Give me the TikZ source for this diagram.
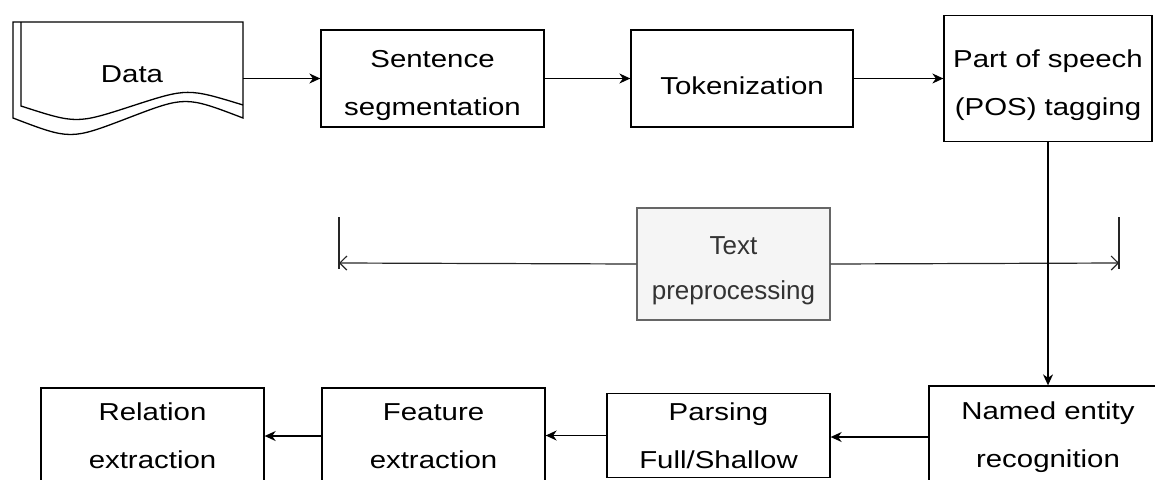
\documentclass[tikz,border=0pt]{standalone}
\usepackage{fontspec}
\setmainfont[FakeStretch=1.2]{Liberation Sans}
\newfontfamily\notefont{Liberation Sans}
\usepackage{xcolor}
\usepackage{tikz}
\usetikzlibrary{arrows.meta}

\definecolor{notefill}{HTML}{F5F5F5}
\definecolor{noteline}{HTML}{666666}
\definecolor{notetext}{HTML}{333333}

\newcommand{\lowstrut}{\rule{0pt}{32pt}} % pushes box text a little down

\begin{document}
\begin{tikzpicture}[
                x=1pt, y=-1pt,
                stage/.style={rectangle, draw, line width=1.3pt, fill=white, align=center, inner sep=0pt, font=\fontsize{24.5}{48}\selectfont}, % Process box
                note/.style={rectangle, draw=noteline, line width=1.3pt, fill=notefill, text=notetext, align=center, inner sep=0pt, font=\notefont\fontsize{26}{45}\selectfont}, % Grey label box
                flow/.style={-{Stealth[length=11pt, width=10pt, inset=3.5pt]}, line width=1.3pt}, % Arrow between boxes
                span/.style={-{Straight Barb[length=7pt, width=14pt]}, line width=1.2pt, draw=black!85} % Open arrow of the bracket
                ]
                \clip (0,0) rectangle (1155,479);

                % stacked document
                \draw[line width=1.3pt, fill=white] (13,22) -- (243,22) -- (243,118) .. controls (185.5,96) .. (128,118) .. controls (70.5,140) .. (13,118) -- cycle;
                \draw[line width=1.3pt] (21,22) -- (21,106) .. controls (76.5,124) .. (132,106) .. controls (187.5,88) .. (243,105);
                \node[inner sep=0pt, minimum width=222pt, font=\fontsize{24.5}{48}\selectfont] (data) at (132,74) {Data};

                % top row
                \node[stage, minimum width=223pt, minimum height=97pt] (sent) at (432.5,78.5) {\lowstrut Sentence\\segmentation};
                \node[stage, minimum width=222pt, minimum height=97pt] (tok) at (742,78.5) {\lowstrut Tokenization};
                \node[stage, minimum width=208pt, minimum height=126pt] (pos) at (1048,78.5) {\lowstrut Part of speech\\(POS) tagging};

                % bottom row
                \node[stage, minimum width=238pt, minimum height=102pt] (ner) at (1048,437) {Named entity\\recognition};
                \node[stage, minimum width=223pt, minimum height=84pt] (pars) at (718.5,435.5) {Parsing\\Full/Shallow};
                \node[stage, minimum width=223pt, minimum height=96pt] (feat) at (433.5,436) {Feature\\extraction};
                \node[stage, minimum width=223pt, minimum height=96pt] (rel) at (152.5,436) {Relation\\extraction};

                % bracket
                \node[note, minimum width=193pt, minimum height=112pt] (prep) at (733.5,264) {\lowstrut Text\\preprocessing};
                \coordinate (lend) at (339,263);
                \coordinate (rend) at (1119,263);
                \draw[line width=1.2pt, black!85] (339,217) -- (339,269);
                \draw[line width=1.2pt, black!85] (1119,217) -- (1119,269);
                \draw[span] (prep.west) -- (lend);
                \draw[span] (prep.east) -- (rend);

                \draw[flow] (sent.west -| data.east) -- (sent.west);
                \draw[flow] (sent) -- (tok);
                \draw[flow] (tok) -- (pos.west |- tok.east);
                \draw[flow] (pos.south) -- (pos.south |- ner.north);
                \draw[flow] (ner.west) -- (ner.west -| pars.east);
                \draw[flow] (pars) -- (pars.west -| feat.east);
                \draw[flow] (feat) -- (rel);
            \end{tikzpicture}
\end{document}
